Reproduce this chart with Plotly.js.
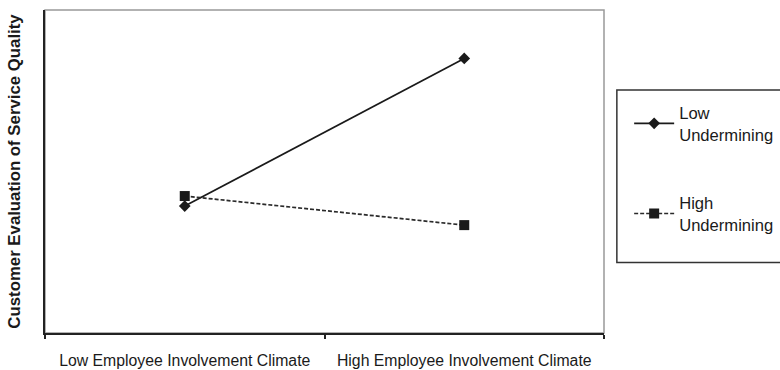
<!DOCTYPE html>
<html>
<head>
<meta charset="utf-8">
<script src="https://cdn.plot.ly/plotly-3.0.1.min.js"></script>
<style>html,body{margin:0;padding:0;background:#fff;}#chart{width:780px;height:370px;}</style>
</head>
<body>
<div id="chart"></div>
<script>
const categories = ["Low Employee Involvement Climate", "High Employee Involvement Climate"];
const lowUndermining = [3.93, 8.50];
const highUndermining = [4.24, 3.34];
const seriesNames = ["Low<br>Undermining", "High<br>Undermining"];
const yTitle = "Customer Evaluation of Service Quality";

const traces = [
  {
    x: categories, y: lowUndermining, name: seriesNames[0], type: "scatter", mode: "lines+markers",
    line: {color: "#1a1a1a", width: 1.7},
    marker: {symbol: "diamond", size: 9, color: "#1a1a1a"},
    legendgroup: "a"
  },
  {
    x: categories, y: highUndermining, name: seriesNames[1], type: "scatter", mode: "lines+markers",
    line: {color: "#2a2a2a", width: 1.7, dash: "4px,2px"},
    marker: {symbol: "square", size: 10, color: "#1a1a1a"},
    legendgroup: "b"
  }
];

const layout = {
  width: 780, height: 370,
  margin: {l: 44.5, r: 176, t: 10, b: 37, autoexpand: false},
  paper_bgcolor: "#fff", plot_bgcolor: "#fff",
  font: {family: "Liberation Sans, Arial, sans-serif", color: "#1a1a1a"},
  showlegend: true,
  legend: {
    x: 1.045, xanchor: "left", y: 0.736, yanchor: "top",
    font: {size: 16.6, color: "#1a1a1a"},
    borderwidth: 0, bgcolor: "rgba(0,0,0,0)",
    traceorder: "grouped", tracegroupgap: 44,
    itemwidth: 40
  },
  xaxis: {
    type: "category", range: [-0.5, 1.5], automargin: false,
    tickson: "boundaries", ticks: "outside", ticklen: 4, tickcolor: "#222", tickwidth: 1.5,
    showline: true, linecolor: "#222", linewidth: 2,
    showgrid: false, zeroline: false,
    tickfont: {size: 15.8, color: "#1a1a1a"},
    ticklabelstandoff: 12
  },
  yaxis: {
    range: [0, 10], showticklabels: false, ticks: "", automargin: false,
    showline: true, linecolor: "#222", linewidth: 2,
    showgrid: false, zeroline: false,
    title: {text: yTitle, font: {size: 16.8, color: "#1a1a1a", weight: "bold"}, standoff: 18}
  },
  shapes: [
    {type: "rect", xref: "paper", yref: "paper", x0: 0, x1: 1, y0: 0, y1: 1,
     line: {color: "#999", width: 1.5}, layer: "below"},
    {type: "rect", xref: "paper", yref: "paper", x0: 1.023, x1: 1.5, y0: 0.218, y1: 0.752,
     line: {color: "#333", width: 1.5}}
  ]
};

Plotly.newPlot("chart", traces, layout, {displayModeBar: false});
</script>
</body>
</html>
